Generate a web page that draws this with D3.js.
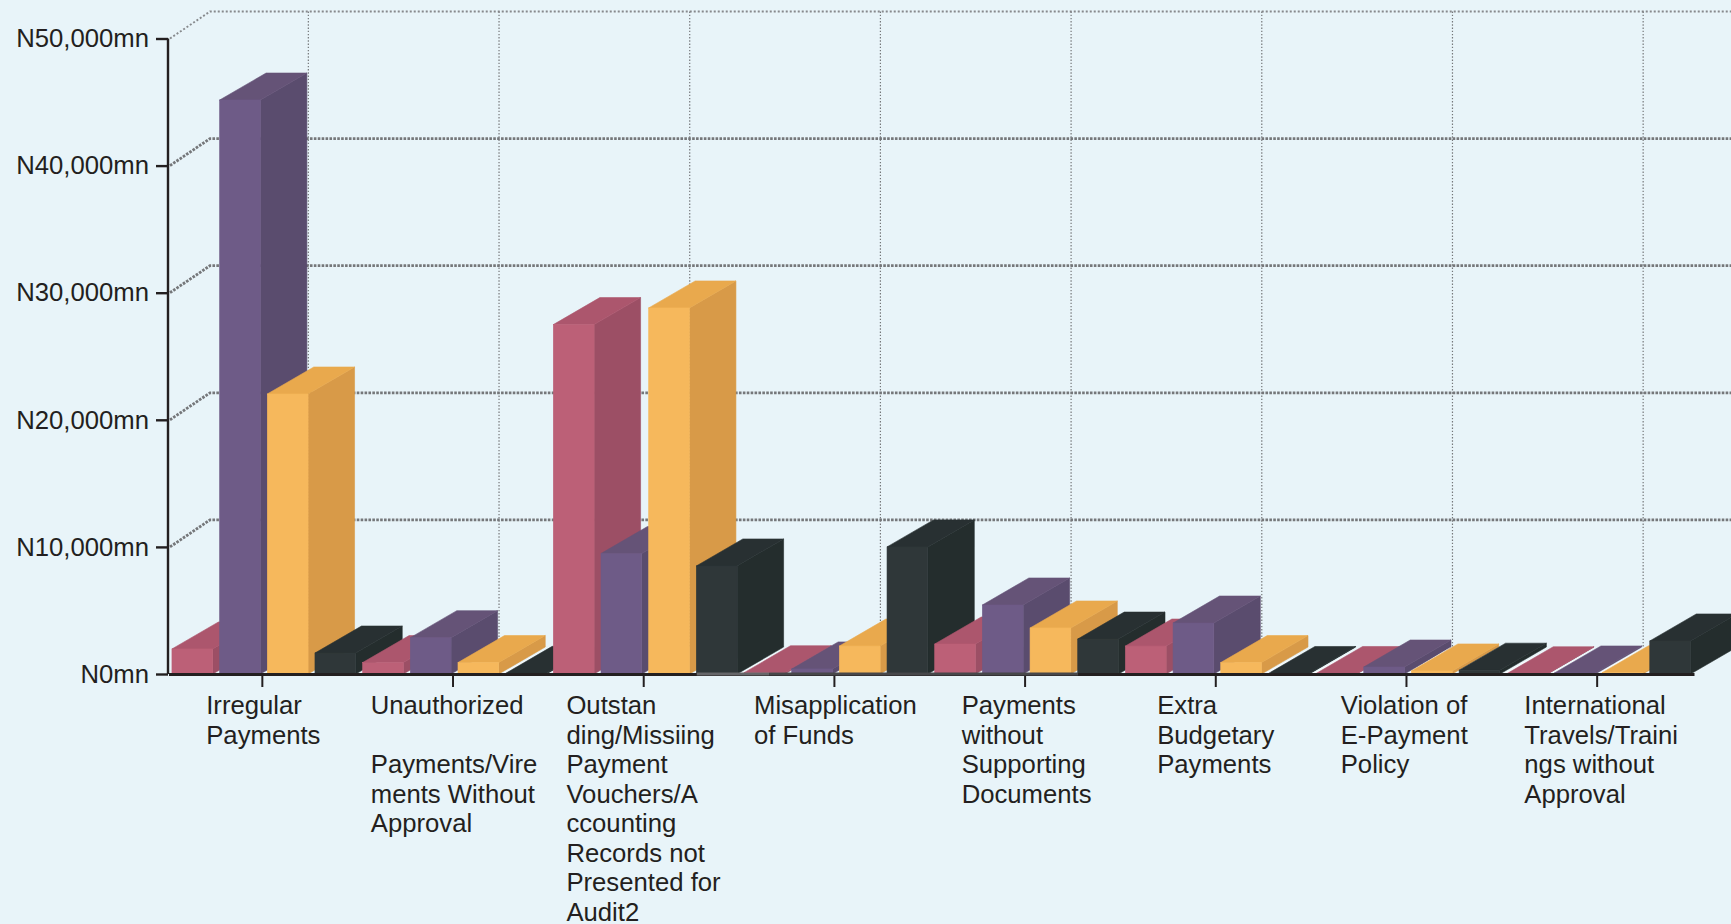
<!DOCTYPE html>
<html>
<head>
<meta charset="utf-8">
<script src="https://cdn.jsdelivr.net/npm/d3@7"></script>
<style>
  html, body { margin: 0; padding: 0; background: #e8f4f9; overflow: hidden; }
  svg { display: block; font-family: "Liberation Sans", Arial, sans-serif; }
  text { fill: #231f20; }
</style>
</head>
<body>
<svg id="chart" width="1731" height="924"></svg>
<script>
// Audit findings by category, in millions of naira.
const categories = [
  "Irregular Payments", "Unauthorized Payments", "Outstanding Vouchers",
  "Misapplication of Funds", "Payments without Documents",
  "Extra Budgetary Payments", "E-Payment Policy", "International Travels"
];
const categoryLines = [
  ["Irregular", "Payments"],
  ["Unauthorized", "", "Payments/Vire", "ments Without", "Approval"],
  ["Outstan", "ding/Missiing", "Payment", "Vouchers/A", "ccounting", "Records not", "Presented for", "Audit2"],
  ["Misapplication", "of Funds"],
  ["Payments", "without", "Supporting", "Documents"],
  ["Extra", "Budgetary", "Payments"],
  ["Violation of", "E-Payment", "Policy"],
  ["International", "Travels/Traini", "ngs without", "Approval"]
];
const seriesNames = ["first", "second", "third", "fourth"];
const firstValues  = [1970, 900, 27490, 100, 2360, 2200, 40, 20];
const secondValues = [45160, 2860, 9480, 400, 5430, 4010, 550, 80];
const thirdValues  = [22030, 900, 28800, 2200, 3620, 900, 240, 100];
const fourthValues = [1650, 50, 8500, 10000, 2750, 40, 300, 2600];
const yTicks = [0, 10000, 20000, 30000, 40000, 50000];

const palette = {
  first:  { front: "#bc6077", top: "#ac566d", side: "#9c4f65" },
  second: { front: "#6e5b87", top: "#655377", side: "#5a4c6e" },
  third:  { front: "#f6b85c", top: "#e9a94d", side: "#d89a48" },
  fourth: { front: "#2f3739", top: "#283032", side: "#242d2d" }
};
const valuesBySeries = {
  first: firstValues, second: secondValues, third: thirdValues, fourth: fourthValues
};

const depthX = 46.5, depthY = 27;
const tickShift = -1.5;
const labelNudge = [1, 1, 0, 1, 2, 0, -2, 4];
const svg = d3.select("#chart");

const y = d3.scaleLinear().domain([0, 50000]).range([674, 38.5]);
const x = d3.scaleBand().domain(categories).range([168.5, 1694]).padding(0);
const xInner = d3.scaleBand().domain(seriesNames).range([0, x.bandwidth()])
  .paddingInner(0.145).paddingOuter(0.0725);

// Receding wall: horizontal rules at each value, joined to the axis by a slanted stub.
const wall = svg.append("g").attr("fill", "none").attr("stroke", "#75777a");
const wallLeft = 210;
yTicks.filter(d => d > 0).forEach(d => {
  const top = d === 50000;
  wall.append("path")
    .attr("d", d3.line()([[170, y(d)], [wallLeft, y(d) - depthY], [1731, y(d) - depthY]]))
    .attr("stroke-width", top ? 1.9 : 2.8)
    .attr("stroke-dasharray", top ? "2 2" : "2.6 1.3")
    .attr("opacity", top ? 0.85 : 1);
});
categories.forEach(c => {
  const gx = x(c) + x.bandwidth() / 2 + tickShift + 46;
  wall.append("line")
    .attr("x1", gx).attr("x2", gx)
    .attr("y1", y(50000) - depthY).attr("y2", y(0) - depthY)
    .attr("stroke-width", 1.2)
    .attr("stroke-dasharray", "1.4 1.8");
});

// Extruded bars, painted left to right so nearer faces overlap correctly.
const bars = svg.append("g");
categories.forEach((c, ci) => {
  seriesNames.forEach(s => {
    const v = valuesBySeries[s][ci];
    const x0 = x(c) + xInner(s), x1 = x0 + xInner.bandwidth();
    const yt = y(v), yb = y(0);
    const g = bars.append("g");
    const colors = palette[s];
    // A pale fringe tapers along the left slant of bars that barely rise off the floor.
    if (yb - yt < 3.5) {
      g.append("polygon")
        .attr("points", [[x0 - 5, yb], [x0, yb], [x0 + depthX - 4, yt - depthY + 1]].join(" "))
        .attr("fill", "#f6fbfd");
    }
    const face = (shape, color) => shape.attr("fill", color).attr("stroke", color).attr("stroke-width", 0.6);
    face(g.append("polygon")
      .attr("points", [[x1, yt], [x1 + depthX, yt - depthY], [x1 + depthX, yb - depthY], [x1, yb]].join(" ")), colors.side);
    face(g.append("polygon")
      .attr("points", [[x0, yt], [x0 + depthX, yt - depthY], [x1 + depthX, yt - depthY], [x1, yt]].join(" ")), colors.top);
    face(g.append("rect")
      .attr("x", x0).attr("y", yt)
      .attr("width", x1 - x0).attr("height", yb - yt), colors.front);
  });
});

// Value axis.
const yAxis = svg.append("g")
  .attr("transform", "translate(168,0)")
  .call(d3.axisLeft(y).tickValues(yTicks)
    .tickFormat(d => "N" + d3.format(",")(d) + "mn")
    .tickSize(12).tickSizeOuter(0).tickPadding(7));
yAxis.selectAll("path, line").attr("stroke", "#231f20").attr("stroke-width", 2.4);
yAxis.select("path").attr("d", `M0,${y(50000)}V${y(0)}`);
yAxis.selectAll("text").attr("font-size", 25.7).attr("fill", "#231f20");

// Category axis: the floor line plus ticks sitting just left of each band centre.
const xAxis = svg.append("g")
  .attr("transform", `translate(0,${y(0)})`)
  .call(d3.axisBottom(x).tickSize(13).tickFormat("").tickSizeOuter(0));
xAxis.select("path").attr("stroke", "#231f20").attr("stroke-width", 3);
xAxis.selectAll(".tick line")
  .attr("stroke", "#231f20").attr("stroke-width", 2)
  .attr("transform", `translate(${tickShift},0)`);

// The floor line reads paler where it runs under the middle categories.
const floorAt = (ci, f) => x(categories[ci]) + f * x.bandwidth();
[[floorAt(2, 0.77), floorAt(3, 0.15), "#666669"], [floorAt(3, 0.15), floorAt(4, 0.77), "#47474a"]]
  .forEach(([a, b, color]) => {
    xAxis.append("line").attr("x1", a).attr("x2", b)
      .attr("stroke", color).attr("stroke-width", 3);
  });

// Category labels: a left-aligned block centred under each tick.
const labels = svg.append("g").attr("font-size", 25.7);
categories.forEach((c, i) => {
  const block = labels.append("text").attr("y", 714);
  categoryLines[i].forEach((line, li) => {
    block.append("tspan").attr("dy", li === 0 ? 0 : 29.5).attr("x", 0).text(line || "\u00a0");
  });
  const w = block.node().getBBox().width;
  block.attr("transform", `translate(${x(c) + x.bandwidth() / 2 + tickShift - w / 2 + labelNudge[i]},0)`);
});
</script>
</body>
</html>
